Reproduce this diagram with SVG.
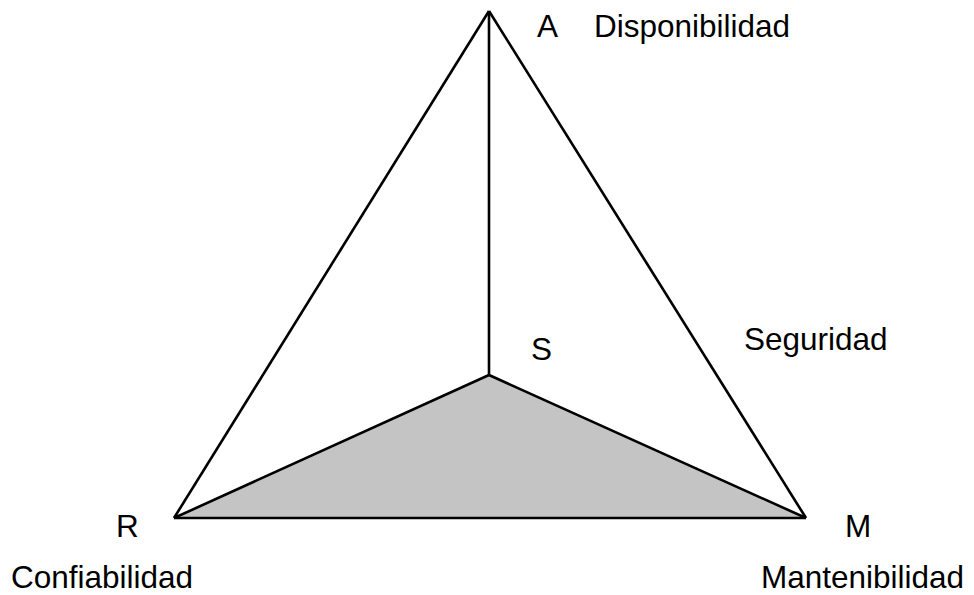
<svg xmlns="http://www.w3.org/2000/svg" width="974" height="595" viewBox="0 0 974 595">
<style>
.e{fill:none;stroke:#000;stroke-width:2.6;stroke-linejoin:miter}
.t{font-family:"Liberation Sans",Arial,sans-serif;font-size:31.5px;fill:#000}
</style>
<rect width="974" height="595" fill="#fff"/>
<g id="base">
<polygon points="174,518 489,375 806,518" fill="#c4c4c4" stroke="none"/>
</g>
<g id="connectors">
<line class="e" x1="489" y1="11" x2="174" y2="518"/>
<line class="e" x1="489" y1="11" x2="806" y2="518"/>
<line class="e" x1="174" y1="518" x2="806" y2="518"/>
<line class="e" x1="489" y1="11" x2="489" y2="375"/>
<line class="e" x1="174" y1="518" x2="489" y2="375"/>
<line class="e" x1="489" y1="375" x2="806" y2="518"/>
</g>
<g id="nodeA"><text class="t" x="537" y="37">A</text><text class="t" x="594" y="37">Disponibilidad</text></g>
<g id="nodeS"><text class="t" x="531" y="360">S</text><text class="t" x="744" y="350">Seguridad</text></g>
<g id="nodeR"><text class="t" x="116" y="537">R</text><text class="t" x="11" y="588">Confiabilidad</text></g>
<g id="nodeM"><text class="t" x="845" y="537">M</text><text class="t" x="761" y="588">Mantenibilidad</text></g>
</svg>
